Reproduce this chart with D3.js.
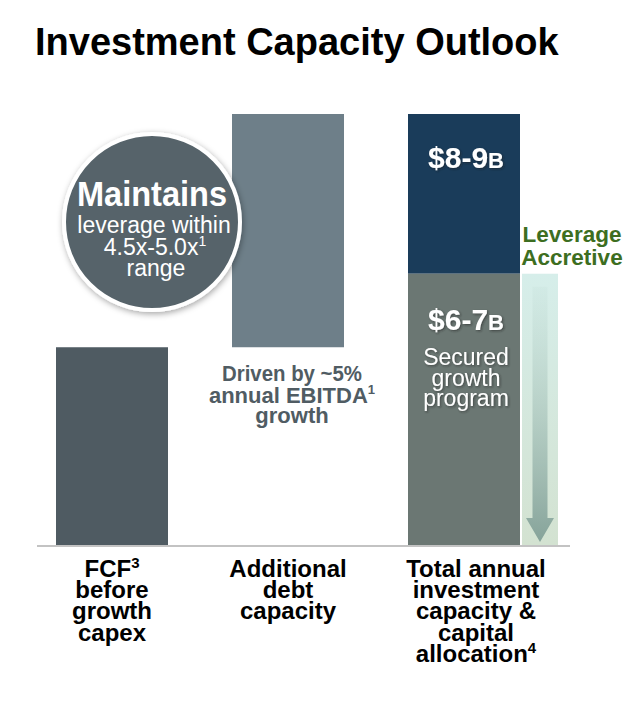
<!DOCTYPE html>
<html>
<head>
<meta charset="utf-8">
<script src="https://cdn.jsdelivr.net/npm/d3@7"></script>
<style>
html,body{margin:0;padding:0;background:#fff;}
svg{display:block;}
text{font-family:"Liberation Sans",Arial,Helvetica,sans-serif;}
</style>
</head>
<body>
<svg id="chart" width="640" height="701"></svg>
<script>
// ---- data ----
const categories = ["fcf", "debt", "total"];
const categoryLabels = [
  [["FCF", "3"], ["before"], ["growth"], ["capex"]],
  [["Additional"], ["debt"], ["capacity"]],
  [["Total annual"], ["investment"], ["capacity &"], ["capital"], ["allocation", "4"]]
];
const fcfValue = 3.9;          // FCF before growth capex (relative units)
const debtValue = 4.6;         // additional debt capacity
const totalValue = 8.5;        // total annual investment capacity ($8-9B)
const securedValue = 5.35;     // secured growth program ($6-7B)
const segmentLabels = ["$8-9", "$6-7"];
const title = "Investment Capacity Outlook";

const svg = d3.select("#chart");
const defs = svg.append("defs");

// filters / gradients
const sh = defs.append("filter").attr("id","txtShadow").attr("x","-20%").attr("y","-20%").attr("width","140%").attr("height","140%");
sh.append("feDropShadow").attr("dx",1.2).attr("dy",1.2).attr("stdDeviation",0.8).attr("flood-color","#222").attr("flood-opacity",0.55);
const csh = defs.append("filter").attr("id","circShadow").attr("x","-20%").attr("y","-20%").attr("width","140%").attr("height","140%");
csh.append("feDropShadow").attr("dx",1).attr("dy",2).attr("stdDeviation",3).attr("flood-color","#000").attr("flood-opacity",0.35);

const boxGrad = defs.append("linearGradient").attr("id","boxGrad").attr("x1",0).attr("y1",0).attr("x2",0).attr("y2",1);
boxGrad.append("stop").attr("offset","0%").attr("stop-color","#d6eeea");
boxGrad.append("stop").attr("offset","100%").attr("stop-color","#d3e2d1");
const arrGrad = defs.append("linearGradient").attr("id","arrGrad").attr("x1",0).attr("y1",0).attr("x2",0).attr("y2",1);
arrGrad.append("stop").attr("offset","0%").attr("stop-color","#b9d6cf").attr("stop-opacity",0.15);
arrGrad.append("stop").attr("offset","100%").attr("stop-color","#86a39a").attr("stop-opacity",1);

// scales
const x = d3.scaleBand().domain(categories).range([24, 552]).paddingInner(64/176).paddingOuter(32/176);
const y = d3.scaleLinear().domain([0, totalValue]).range([545, 114]);
const bw = x.bandwidth();

// title
svg.append("text").attr("x", 35).attr("y", 55)
  .attr("font-size", 38).attr("font-weight", "bold").attr("fill", "#000")
  .text(title);

// bars
svg.append("rect").attr("x", x("fcf")).attr("y", y(fcfValue)).attr("width", bw)
  .attr("height", y(0) - y(fcfValue)).attr("fill", "#4f5b62");
svg.append("rect").attr("x", x("debt")).attr("y", y(fcfValue + debtValue)).attr("width", bw)
  .attr("height", y(fcfValue) - y(fcfValue + debtValue)).attr("fill", "#6e7f89");
svg.append("rect").attr("x", x("total")).attr("y", y(totalValue)).attr("width", bw)
  .attr("height", y(securedValue) - y(totalValue)).attr("fill", "#1a3c5a");
svg.append("rect").attr("x", x("total")).attr("y", y(securedValue)).attr("width", bw)
  .attr("height", y(0) - y(securedValue)).attr("fill", "#6b7773");

// leverage accretive arrow box
const ax = x("total") + bw + 2, aw = 36;
svg.append("rect").attr("x", ax).attr("y", y(securedValue)).attr("width", aw)
  .attr("height", y(0) - y(securedValue)).attr("fill", "url(#boxGrad)");
const acx = ax + aw / 2;
const headTop = y(0) - 27, headBot = y(0) - 3;
svg.append("path")
  .attr("d", `M${acx-7.5},${y(securedValue)+13} L${acx+7.5},${y(securedValue)+13} L${acx+7.5},${headTop} L${acx+14},${headTop} L${acx},${headBot} L${acx-14},${headTop} L${acx-7.5},${headTop} Z`)
  .attr("fill", "url(#arrGrad)");

// baseline
svg.append("line").attr("x1", 37).attr("x2", 570).attr("y1", y(0) + 1).attr("y2", y(0) + 1)
  .attr("stroke", "#c3c3c3").attr("stroke-width", 2);

// circle callout
const cx = 152, cy = 222;
svg.append("circle").attr("cx", cx).attr("cy", cy).attr("r", 88)
  .attr("fill", "#56636a").attr("stroke", "#fff").attr("stroke-width", 4)
  .attr("filter", "url(#circShadow)");
svg.append("text").attr("x", cx).attr("y", 206).attr("text-anchor", "middle")
  .attr("font-size", 35).attr("font-weight", "bold").attr("fill", "#fff")
  .attr("textLength", 150).attr("lengthAdjust", "spacingAndGlyphs").text("Maintains");
svg.append("text").attr("x", cx + 2).attr("y", 233).attr("text-anchor", "middle")
  .attr("font-size", 23).attr("fill", "#fff").text("leverage within");
const t45 = svg.append("text").attr("x", cx + 3).attr("y", 255).attr("text-anchor", "middle")
  .attr("font-size", 23).attr("fill", "#fff");
t45.append("tspan").text("4.5x-5.0x");
t45.append("tspan").attr("font-size", 14).attr("dy", -9).text("1");
svg.append("text").attr("x", cx + 4).attr("y", 276).attr("text-anchor", "middle")
  .attr("font-size", 23).attr("fill", "#fff").text("range");

// debt annotation
const dcx = x("debt") + bw / 2 + 4;
svg.append("text").attr("x", dcx).attr("y", 381).attr("text-anchor", "middle")
  .attr("font-size", 22).attr("font-weight", "bold").attr("fill", "#505c63")
  .attr("textLength", 140).attr("lengthAdjust", "spacingAndGlyphs").text("Driven by ~5%");
const eb = svg.append("text").attr("x", dcx).attr("y", 403).attr("text-anchor", "middle")
  .attr("font-size", 22).attr("font-weight", "bold").attr("fill", "#505c63");
eb.append("tspan").text("annual EBITDA");
eb.append("tspan").attr("font-size", 13).attr("dy", -9).text("1");
svg.append("text").attr("x", dcx).attr("y", 423).attr("text-anchor", "middle")
  .attr("font-size", 22).attr("font-weight", "bold").attr("fill", "#505c63").text("growth");

// total bar labels
const tcx = x("total") + bw / 2 + 2;
function bigLabel(txt, yy) {
  const t = svg.append("text").attr("x", tcx).attr("y", yy).attr("text-anchor", "middle")
    .attr("font-weight", "bold").attr("fill", "#fff").attr("filter", "url(#txtShadow)");
  t.append("tspan").attr("font-size", 30).text(txt);
  t.append("tspan").attr("font-size", 22).text("B");
}
bigLabel(segmentLabels[0], 168);
bigLabel(segmentLabels[1], 330);
["Secured", "growth", "program"].forEach((s, i) => {
  svg.append("text").attr("x", tcx).attr("y", 365 + i * 20.5).attr("text-anchor", "middle")
    .attr("font-size", 23).attr("fill", "#fff").attr("filter", "url(#txtShadow)").text(s);
});

// leverage accretive text
["Leverage", "Accretive"].forEach((s, i) => {
  svg.append("text").attr("x", 572).attr("y", 242 + i * 23).attr("text-anchor", "middle")
    .attr("font-size", 22.5).attr("font-weight", "bold").attr("fill", "#3d6e21").text(s);
});

// category labels
categories.forEach((c, ci) => {
  const lx = x(c) + bw / 2 + (ci === 2 ? 12 : 0);
  categoryLabels[ci].forEach((ln, li) => {
    const t = svg.append("text").attr("x", lx).attr("y", 577 + li * 21.2).attr("text-anchor", "middle")
      .attr("font-size", 24).attr("font-weight", "bold").attr("fill", "#000");
    t.append("tspan").text(ln[0]);
    if (ln[1]) t.append("tspan").attr("font-size", 15).attr("dy", -9).text(ln[1]);
  });
});
</script>
</body>
</html>
